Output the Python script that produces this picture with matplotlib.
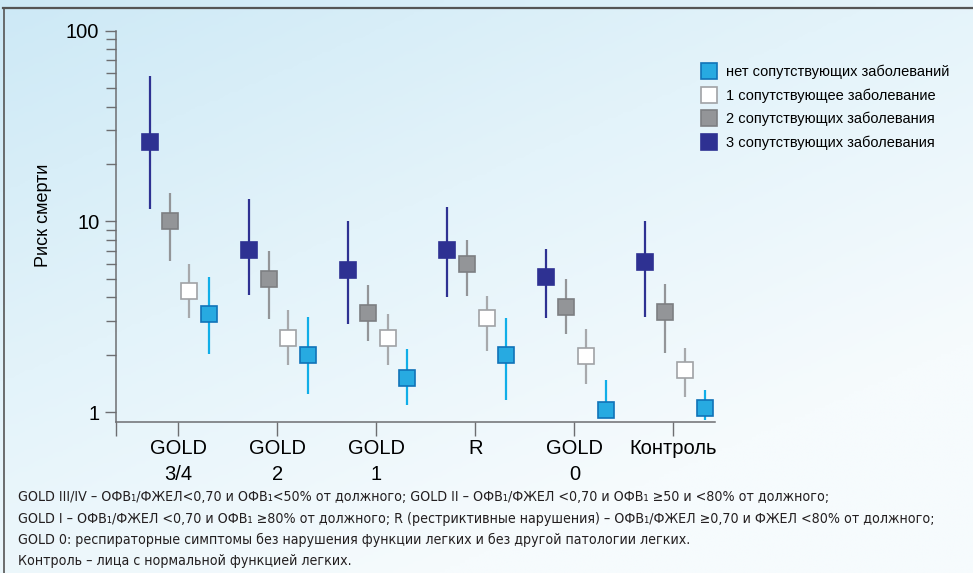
import numpy as np
import matplotlib
matplotlib.use('Agg')
import matplotlib.pyplot as plt
from matplotlib.lines import Line2D
from matplotlib.colors import LinearSegmentedColormap

categories = ['GOLD\n3/4', 'GOLD\n2', 'GOLD\n1', 'R', 'GOLD\n0', 'Контроль']
series_names = ['нет сопутствующих заболеваний', '1 сопутствующее заболевание',
                '2 сопутствующих заболевания', '3 сопутствующих заболевания']

# risk of death (point, lower, upper) for 0..3 comorbidities
risk_0 = [3.26, 2.0, 1.51, 1.99, 1.02, 1.05]
low_0 = [2.02, 1.24, 1.09, 1.15, 0.93, 0.91]
high_0 = [5.1, 3.14, 2.15, 3.13, 1.48, 1.31]

risk_1 = [4.3, 2.44, 2.44, 3.1, 1.97, 1.66]
low_1 = [3.12, 1.77, 1.77, 2.09, 1.40, 1.20]
high_1 = [6.0, 3.42, 3.25, 4.05, 2.72, 2.17]

risk_2 = [10.0, 5.0, 3.31, 6.0, 3.56, 3.35]
low_2 = [6.2, 3.08, 2.36, 4.08, 2.58, 2.05]
high_2 = [14.1, 7.03, 4.65, 8.02, 5.0, 4.7]

risk_3 = [26.2, 7.1, 5.58, 7.1, 5.11, 6.1]
low_3 = [11.6, 4.13, 2.88, 3.99, 3.13, 3.16]
high_3 = [58.0, 13.1, 10.0, 11.9, 7.17, 10.1]

footnote_lines = [
    'GOLD III/IV – ОФВ₁/ФЖЕЛ<0,70 и ОФВ₁<50% от должного; GOLD II – ОФВ₁/ФЖЕЛ <0,70 и ОФВ₁ ≥50 и <80% от должного;',
    'GOLD I – ОФВ₁/ФЖЕЛ <0,70 и ОФВ₁ ≥80% от должного; R (рестриктивные нарушения) – ОФВ₁/ФЖЕЛ ≥0,70 и ФЖЕЛ <80% от должного;',
    'GOLD 0: респираторные симптомы без нарушения функции легких и без другой патологии легких.',
    'Контроль – лица с нормальной функцией легких.',
]

sans = ['Liberation Sans', 'DejaVu Sans']
plt.rcParams['font.family'] = sans

fig = plt.figure(figsize=(9.73, 5.73), dpi=100)

# gradient background
bg = fig.add_axes([0, 0, 1, 1], zorder=-10)
bg.axis('off')
yy, xx = np.mgrid[0:1:200j, 0:1:200j]
grad = np.clip(0.55 * xx + 0.75 * yy, 0, 1)
cmap = LinearSegmentedColormap.from_list('bgc', ['#cde9f6', '#e3f3fa', '#f6fbfd'])
bg.imshow(grad, cmap=cmap, aspect='auto', extent=[0, 1, 0, 1], origin='upper')
bg.set_xlim(0, 1)
bg.set_ylim(0, 1)
fig.add_artist(Line2D([0.003, 1.0], [1 - 7.5 / 573, 1 - 7.5 / 573], color='#555555', lw=1.6))
fig.add_artist(Line2D([3.5 / 973, 3.5 / 973], [0, 1 - 7.5 / 573], color='#555555', lw=1.2))

ax = fig.add_axes([116 / 973, 1 - 422 / 573, (715 - 116) / 973, (422 - 30.7) / 573])
ax.patch.set_alpha(0)

x = np.arange(len(categories))
series = [
    (risk_3, low_3, high_3, '#2e3192', '#2e3192', '#2e3192'),
    (risk_2, low_2, high_2, '#939598', '#7d7f82', '#939598'),
    (risk_1, low_1, high_1, '#ffffff', '#a0a2a5', '#a7a9ac'),
    (risk_0, low_0, high_0, '#27aae1', '#1173b8', '#10aee8'),
]
offsets = [-0.3, -0.1, 0.1, 0.3]
for (r, lo, hi, fc, ec, lc), off in zip(series, offsets):
    r = np.array(r); lo = np.array(lo); hi = np.array(hi)
    ax.vlines(x + off + 0.015, lo, hi, color=lc, lw=1.6, zorder=2)
    ax.plot(x + off + 0.015, r, ls='none', marker='s', ms=11, mfc=fc, mec=ec, mew=1.2, zorder=3)

ax.set_yscale('log')
ax.set_ylim(0.887, 100)
ax.set_xlim(-0.626, 5.42)

for s in ['top', 'right']:
    ax.spines[s].set_visible(False)
for s in ['left', 'bottom']:
    ax.spines[s].set_color('#6d6e71')
    ax.spines[s].set_linewidth(1.1)

ax.set_yticks([1, 10, 100])
ax.set_yticklabels(['1', '10', '100'], fontsize=14.5)
ax.set_yticks([v * d for d in (1, 10) for v in range(2, 10)], minor=True)
ax.tick_params(axis='y', which='minor', length=7, width=1.0, color='#6d6e71', labelleft=False)
ax.tick_params(axis='y', which='major', length=8, width=1.0, color='#6d6e71', pad=4)

ax.set_xticks([-0.626] + list(x))
ax.set_xticklabels([''] + categories, fontsize=14.5, linespacing=1.5)
ax.tick_params(axis='x', length=10, width=1.0, color='#6d6e71', pad=2)

ax.set_ylabel('Риск смерти', fontsize=13)
ax.yaxis.set_label_coords(-0.107, 0.529)

handles = []
for (r, lo, hi, fc, ec, lc) in series[::-1]:
    handles.append(Line2D([], [], ls='none', marker='s', ms=11, mfc=fc, mec=ec, mew=1.2))
fig.legend(handles, series_names, loc='upper left', bbox_to_anchor=(694 / 973, 1 - 59 / 573),
           frameon=False, fontsize=10.5, handletextpad=0.6, labelspacing=0.62,
           handlelength=1.2, borderaxespad=0)

# footnote, condensed font sized so the widest line spans ~916 px like the reference
renderer = fig.canvas.get_renderer()
texts = []
for i, line in enumerate(footnote_lines):
    t = fig.text(18 / 973, 1 - (497 + i * 21.5) / 573, line, family=['DejaVu Sans'],
                 fontstretch='condensed', fontsize=11.5, va='center', ha='left', color='#231f20')
    texts.append(t)
w = texts[1].get_window_extent(renderer).width
scale = min(1.0, 916.0 / w)
for t in texts:
    t.set_fontsize(11.5 * scale)

fig.savefig('out.png', dpi=100)
